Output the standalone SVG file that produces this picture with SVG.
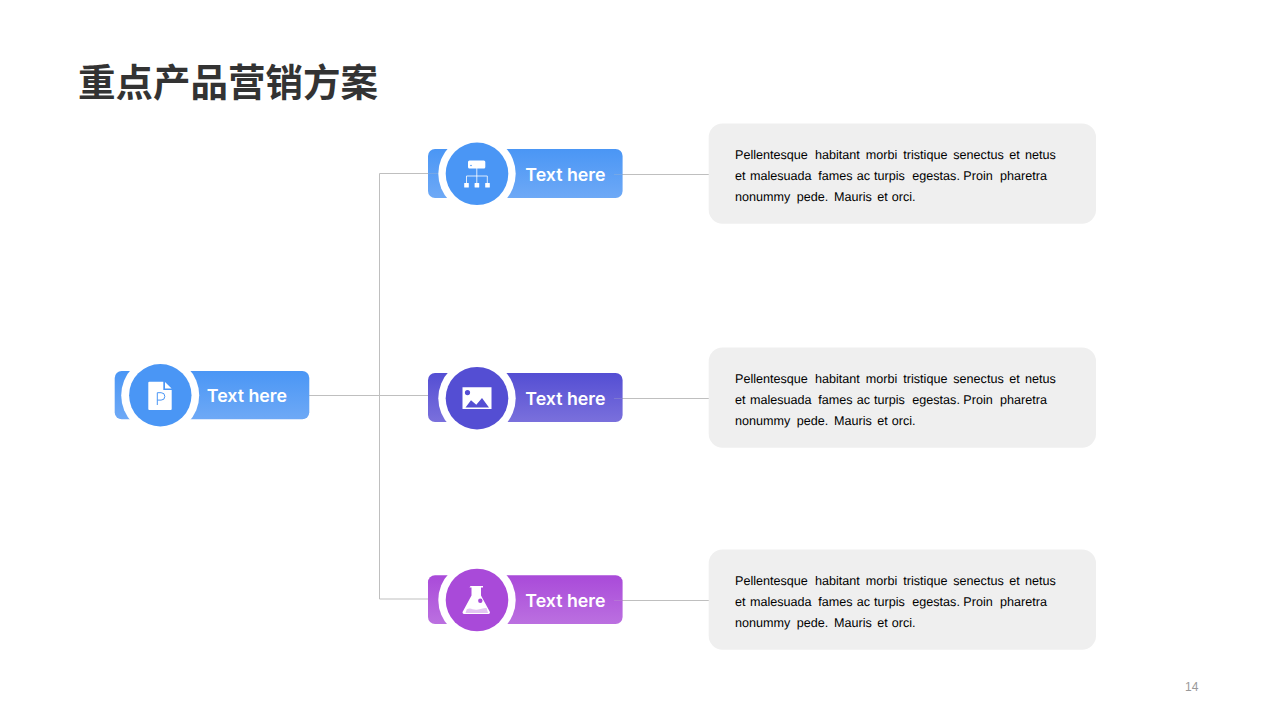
<svg xmlns="http://www.w3.org/2000/svg" width="1280" height="720" viewBox="0 0 1280 720">
<style>
.title{font:700 37.5px "Noto Sans CJK SC",sans-serif;fill:#333}
.lbl{font:600 17.8px Inter,"Liberation Sans",sans-serif;fill:#fff}
.body{font:12.6px "Liberation Sans",Arial,sans-serif;fill:#000;text-rendering:geometricPrecision}
.panel{fill:#efefef}
.conn{fill:none;stroke:#bfbfbf;stroke-width:1}
.faint{fill:none;stroke:#bfbfbf;stroke-width:1;stroke-opacity:.25}
.ring{fill:#fff}
.num{font:12px "Liberation Sans",Arial,sans-serif;fill:#999}
</style>
<defs>
<linearGradient id="gb" x1="0" y1="0" x2="0" y2="1"><stop offset="0" stop-color="#4a96f5"/><stop offset="1" stop-color="#6ea9f6"/></linearGradient>
<linearGradient id="gi" x1="0" y1="0" x2="0" y2="1"><stop offset="0" stop-color="#544ed3"/><stop offset="1" stop-color="#7a70dc"/></linearGradient>
<linearGradient id="gp" x1="0" y1="0" x2="0" y2="1"><stop offset="0" stop-color="#a94ad9"/><stop offset="1" stop-color="#bb70e0"/></linearGradient>
</defs>
<rect width="1280" height="720" fill="#fff"/>
<text class="title" x="78" y="96">重点产品营销方案</text>
<g id="connectors">
<path class="conn" d="M309 395.500H428M379.500 173.500V599M379.500 173.500H428M379.500 599H428M622 174.500H709M622 398.500H709M622 600.500H709"/>
</g>
<g id="node-root">
<rect x="114.700" y="371" width="194.600" height="48.300" rx="7" fill="url(#gb)"/>
<circle class="ring" cx="160.200" cy="395.300" r="39"/><circle cx="160.300" cy="395.300" r="31.200" fill="#4a96f5"/>
<path fill="#fff" d="M149.300 381.700h14v8.300h8.400v19a1 1 0 0 1-1 1h-21.400a1 1 0 0 1-1-1v-26.300a1 1 0 0 1 1-1zM165 381.900l6.600 6.600H165z"/>
<path fill="none" stroke="#4a96f5" stroke-width="1" d="M157.300 405v-12.300h3.800a3.700 3.700 0 0 1 0 7.400h-3.800"/>
<text class="lbl" x="206.800" y="401.600">Text here</text>
</g>
<g id="node-a">
<rect x="428" y="149" width="194.600" height="49" rx="7" fill="url(#gb)"/>
<circle class="ring" cx="477" cy="173.800" r="38.700"/><circle cx="477" cy="173.800" r="31.300" fill="#4a96f5"/>
<g fill="#fff"><rect x="468" y="160.500" width="17.300" height="8" rx="1.500"/><rect x="464.200" y="183" width="4.600" height="4.600" rx=".5"/><rect x="474.600" y="183" width="4.600" height="4.600" rx=".5"/><rect x="485.200" y="183" width="4.600" height="4.600" rx=".5"/></g>
<circle cx="471" cy="165.500" r=".8" fill="#4a96f5"/>
<path fill="none" stroke="#fff" stroke-opacity=".8" d="M476.800 168v15M466.500 183v-7h20.800v7"/>
<text class="lbl" x="525.300" y="180.600">Text here</text>
<path class="faint" d="M428 173.500h10M614 174.500h8.300"/>
</g>
<g id="node-b">
<rect x="428" y="373" width="194.600" height="49" rx="7" fill="url(#gi)"/>
<circle class="ring" cx="477" cy="398.200" r="38.700"/><circle cx="477" cy="398.200" r="31.300" fill="#544ed3"/>
<path fill="#fff" fill-rule="evenodd" d="M462.500 387.300h29v21.700h-29zM467.500 390a2.600 2.600 0 1 0 0 5.200 2.600 2.600 0 1 0 0-5.200zM465.500 407.500h23.500l-7-9.500-5.700 6.700-5.300-4.500z"/>
<text class="lbl" x="525.300" y="404.600">Text here</text>
<path class="faint" d="M614 398.500h8.300"/>
</g>
<g id="node-c">
<rect x="428" y="575.200" width="194.600" height="48.800" rx="7" fill="url(#gp)"/>
<circle class="ring" cx="477" cy="600" r="38.700"/><circle cx="477" cy="600" r="31.300" fill="#a94ad9"/>
<path fill="#fff" fill-rule="evenodd" d="M470.500 586h12.500v1.500h-2v8l8.800 16.300a1.500 1.500 0 0 1-1.300 2.200h-24.500a1.500 1.500 0 0 1-1.300-2.200l8.800-16.300v-8h-2zM480.300 598.500a2.200 2.200 0 1 0 0 4.400 2.200 2.200 0 1 0 0-4.400z"/>
<path fill="#e3c4f2" d="M466.800 609.300c4-2 6 1 10 .5s7-2 9.800-1.700l1.400 5h-22.500z"/>
<text class="lbl" x="525.300" y="606.600">Text here</text>
<path class="faint" d="M614 600.500h8.300"/>
</g>
<g id="panel-a"><rect class="panel" x="708.700" y="123.500" width="387.300" height="100.300" rx="14"/>
<text class="body" y="158.800"><tspan x="735">Pellentesque</tspan> <tspan x="815">habitant</tspan> <tspan x="865.700">morbi</tspan> <tspan x="903.300">tristique</tspan> <tspan x="953.300">senectus</tspan> <tspan x="1009.300">et</tspan> <tspan x="1025">netus</tspan></text>
<text class="body" y="179.800"><tspan x="735">et</tspan> <tspan x="750">malesuada</tspan> <tspan x="818.300">fames</tspan> <tspan x="856.700">ac</tspan> <tspan x="874">turpis</tspan> <tspan x="912.300">egestas.</tspan> <tspan x="963.300">Proin</tspan> <tspan x="1000">pharetra</tspan></text>
<text class="body" y="200.800"><tspan x="735">nonummy</tspan> <tspan x="796.700">pede.</tspan> <tspan x="834">Mauris</tspan> <tspan x="877.300">et</tspan> <tspan x="891.700">orci.</tspan></text></g>
<g id="panel-b"><rect class="panel" x="708.700" y="347.500" width="387.300" height="100.300" rx="14"/>
<text class="body" y="382.800"><tspan x="735">Pellentesque</tspan> <tspan x="815">habitant</tspan> <tspan x="865.700">morbi</tspan> <tspan x="903.300">tristique</tspan> <tspan x="953.300">senectus</tspan> <tspan x="1009.300">et</tspan> <tspan x="1025">netus</tspan></text>
<text class="body" y="403.800"><tspan x="735">et</tspan> <tspan x="750">malesuada</tspan> <tspan x="818.300">fames</tspan> <tspan x="856.700">ac</tspan> <tspan x="874">turpis</tspan> <tspan x="912.300">egestas.</tspan> <tspan x="963.300">Proin</tspan> <tspan x="1000">pharetra</tspan></text>
<text class="body" y="424.800"><tspan x="735">nonummy</tspan> <tspan x="796.700">pede.</tspan> <tspan x="834">Mauris</tspan> <tspan x="877.300">et</tspan> <tspan x="891.700">orci.</tspan></text></g>
<g id="panel-c"><rect class="panel" x="708.700" y="549.500" width="387.300" height="100.300" rx="14"/>
<text class="body" y="584.800"><tspan x="735">Pellentesque</tspan> <tspan x="815">habitant</tspan> <tspan x="865.700">morbi</tspan> <tspan x="903.300">tristique</tspan> <tspan x="953.300">senectus</tspan> <tspan x="1009.300">et</tspan> <tspan x="1025">netus</tspan></text>
<text class="body" y="605.800"><tspan x="735">et</tspan> <tspan x="750">malesuada</tspan> <tspan x="818.300">fames</tspan> <tspan x="856.700">ac</tspan> <tspan x="874">turpis</tspan> <tspan x="912.300">egestas.</tspan> <tspan x="963.300">Proin</tspan> <tspan x="1000">pharetra</tspan></text>
<text class="body" y="626.800"><tspan x="735">nonummy</tspan> <tspan x="796.700">pede.</tspan> <tspan x="834">Mauris</tspan> <tspan x="877.300">et</tspan> <tspan x="891.700">orci.</tspan></text></g>
<text class="num" x="1185" y="691">14</text>
</svg>
